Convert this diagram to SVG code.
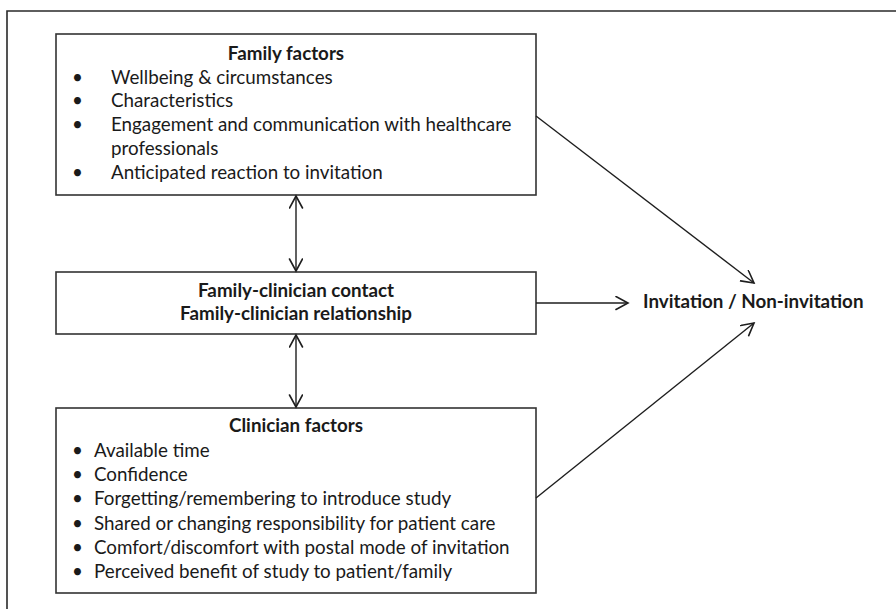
<svg xmlns="http://www.w3.org/2000/svg" width="896" height="609" viewBox="0 0 896 609">
<defs>
<marker id="arr" markerUnits="userSpaceOnUse" markerWidth="16" markerHeight="16" refX="13" refY="7" orient="auto-start-reverse" viewBox="0 0 16 16">
<path d="M1,0.5 L13,7 L1,13.5" fill="none" stroke="#1e1e1e" stroke-width="1.6" stroke-linecap="round" stroke-linejoin="miter"/>
</marker>
<style>
.box{fill:#fff;stroke:#333;stroke-width:1.6}
.frame{stroke:#2a2a2a;stroke-width:1.6;fill:none}
.con{stroke:#1e1e1e;stroke-width:1.4;fill:none}
text{font-family:Lato,"Liberation Sans",sans-serif;font-size:18.8px;fill:#1a1a1a}
.t{font-weight:bold;text-anchor:middle}
.b{font-weight:bold}
</style>
</defs>
<rect width="896" height="609" fill="#fff"/>
<path class="frame" d="M7,609 L7,11 L896,11"/>
<g id="family-factors">
<rect class="box" x="56" y="34" width="480" height="161"/>
<text class="t" x="286" y="60">Family factors</text>
<text x="72" y="84">•</text><text x="111" y="84">Wellbeing &amp; circumstances</text>
<text x="72" y="107">•</text><text x="111" y="107">Characteristics</text>
<text x="72" y="131">•</text><text x="111" y="131">Engagement and communication with healthcare</text>
<text x="111" y="155">professionals</text>
<text x="72" y="179">•</text><text x="111" y="179">Anticipated reaction to invitation</text>
</g>
<g id="family-clinician">
<rect class="box" x="56" y="272" width="480" height="62"/>
<text class="t" x="296" y="297">Family-clinician contact</text>
<text class="t" x="296" y="320">Family-clinician relationship</text>
</g>
<g id="clinician-factors">
<rect class="box" x="56" y="408" width="480" height="185"/>
<text class="t" x="296" y="432">Clinician factors</text>
<text x="72" y="457">•</text><text x="94" y="457">Available time</text>
<text x="72" y="481">•</text><text x="94" y="481">Confidence</text>
<text x="72" y="505">•</text><text x="94" y="505">Forgetting/remembering to introduce study</text>
<text x="72" y="530">•</text><text x="94" y="530">Shared or changing responsibility for patient care</text>
<text x="72" y="554">•</text><text x="94" y="554">Comfort/discomfort with postal mode of invitation</text>
<text x="72" y="578">•</text><text x="94" y="578">Perceived  benefit of study to patient/family</text>
</g>
<g id="outcome">
<text class="b" x="643" y="308">Invitation / Non-invitation</text>
</g>
<g id="connectors">
<line class="con" x1="296" y1="196" x2="296" y2="271" marker-start="url(#arr)" marker-end="url(#arr)"/>
<line class="con" x1="296" y1="335" x2="296" y2="407" marker-start="url(#arr)" marker-end="url(#arr)"/>
<line class="con" x1="536" y1="303" x2="628" y2="303" marker-end="url(#arr)"/>
<line class="con" x1="536" y1="116" x2="754" y2="283" marker-end="url(#arr)"/>
<line class="con" x1="536" y1="498" x2="754" y2="323" marker-end="url(#arr)"/>
</g>
</svg>
